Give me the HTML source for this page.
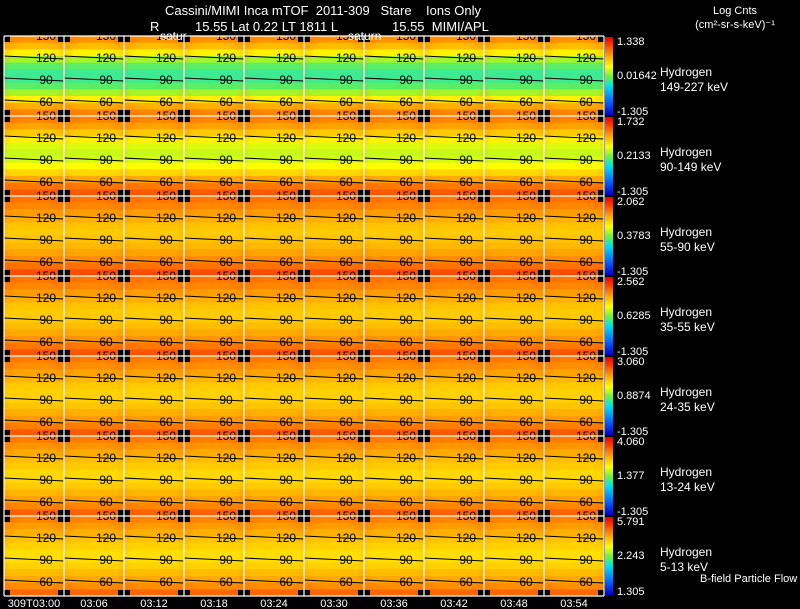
<!DOCTYPE html>
<html><head><meta charset="utf-8">
<style>
html,body{margin:0;padding:0;background:#000;width:800px;height:609px;overflow:hidden}
svg{display:block}
text{font-family:"Liberation Sans",sans-serif;white-space:pre}
</style></head>
<body>
<svg id="chart" width="800" height="609" viewBox="0 0 800 609" xmlns="http://www.w3.org/2000/svg" xml:space="preserve">
<g id="grid"></g>
<text x="165" y="15" fill="#fff" font-size="13">Cassini/MIMI Inca mTOF  2011-309   Stare    Ions Only</text>
<text x="150" y="31" fill="#fff" font-size="13">R</text>
<text x="195" y="31" fill="#fff" font-size="13">15.55 Lat 0.22 LT 1811 L</text>
<text x="392" y="31" fill="#fff" font-size="13">15.55  MIMI/APL</text>
<text x="735" y="14" fill="#fff" font-size="11" text-anchor="middle">Log Cnts</text>
<text x="735" y="28" fill="#fff" font-size="11" text-anchor="middle">(cm²-sr-s-keV)⁻¹</text>
<text x="160" y="40" fill="#fff" font-size="12">satur</text>
<text x="348" y="40" fill="#fff" font-size="12">saturn</text>
<text x="700" y="582" fill="#fff" font-size="11">B-field Particle Flow</text>
</svg>
<script>
const times=["309T03:00","03:06","03:12","03:18","03:24","03:30","03:36","03:42","03:48","03:54"];
const species=["Hydrogen","Hydrogen","Hydrogen","Hydrogen","Hydrogen","Hydrogen","Hydrogen"];
const energies=["149-227 keV","90-149 keV","55-90 keV","35-55 keV","24-35 keV","13-24 keV","5-13 keV"];
const cbMax=["1.338","1.732","2.062","2.562","3.060","4.060","5.791"];
const cbMid=["0.01642","0.2133","0.3783","0.6285","0.8874","1.377","2.243"];
const cbMin=["-1.305","-1.305","-1.305","-1.305","-1.305","-1.305","1.305"];
// vertical intensity profile per row (0=blue .. 1=red), top->bottom, 12 bins
const profiles=[
 [0.78,0.72,0.64,0.54,0.47,0.44,0.44,0.47,0.54,0.64,0.74,0.80],
 [0.80,0.76,0.70,0.64,0.59,0.57,0.58,0.62,0.68,0.75,0.82,0.86],
 [0.82,0.80,0.77,0.74,0.71,0.70,0.71,0.73,0.76,0.79,0.83,0.88],
 [0.82,0.80,0.77,0.74,0.71,0.70,0.70,0.72,0.75,0.78,0.82,0.87],
 [0.81,0.79,0.76,0.73,0.70,0.69,0.69,0.71,0.74,0.77,0.81,0.86],
 [0.81,0.78,0.75,0.72,0.70,0.68,0.68,0.70,0.73,0.76,0.80,0.85],
 [0.80,0.77,0.74,0.71,0.69,0.67,0.67,0.69,0.72,0.75,0.79,0.84]];
const contourLevels=["120","90","60"];
const contourY=[22,44,66];

const X0=4,CW=60,Y0=36,RH=80,NC=10,NR=7;
const xs=i=>X0+i*CW, ys=r=>Y0+r*RH;
function cmap(v){
 const stops=[[0,[0,0,200]],[0.2,[0,120,255]],[0.38,[0,230,230]],[0.5,[120,240,60]],[0.62,[255,255,0]],[0.78,[255,150,0]],[0.9,[255,60,0]],[1,[230,0,0]]];
 for(let i=1;i<stops.length;i++){if(v<=stops[i][0]){const a=stops[i-1],b=stops[i],t=(v-a[0])/(b[0]-a[0]);return `rgb(${a[1].map((c,k)=>Math.round(c+(b[1][k]-c)*t)).join(',')})`;}}
 return 'rgb(230,0,0)';
}
const NS="http://www.w3.org/2000/svg";
const g=document.getElementById('grid');
function el(t,a,p){const e=document.createElementNS(NS,t);for(const k in a)e.setAttribute(k,a[k]);(p||g).appendChild(e);return e;}
const defs=el('defs',{});
const rg=el('radialGradient',{id:'edge',cx:'0.5',cy:'0.5',r:'0.7'},defs);
el('stop',{offset:'0.6','stop-color':'#ff6000','stop-opacity':'0'},rg);
el('stop',{offset:'1','stop-color':'#ff5000','stop-opacity':'0.35'},rg);
for(let r=0;r<NR;r++){
 for(let c=0;c<NC;c++){
  const cg=el('g',{});
  
  
  const x=xs(c),y=ys(r),bh=RH/profiles[r].length;
  profiles[r].forEach((v,i)=>{
   const rc=el('rect',{x:x,y:(y+i*bh).toFixed(2),width:CW,height:(bh+0.5).toFixed(2),fill:cmap(v)},cg);
   
   
  });
  el('rect',{x:x,y:y,width:CW,height:RH,fill:'url(#edge)'},cg);
  [[x,y],[x+CW-6,y],[x,y+RH-6],[x+CW-6,y+RH-6]].forEach(p=>el('rect',{x:p[0],y:p[1],width:6,height:6,fill:'#000'},cg));
  el('text',{x:x+42,y:y+4,'font-size':'12','text-anchor':'middle',fill:'#000'},cg).textContent='150';
  contourLevels.forEach((lv,k)=>{
   const cy=y+contourY[k];
   const ln=el('polyline',{points:`${x},${cy-2} ${x+20},${cy-1} ${x+40},${cy} ${x+CW},${cy+1}`,fill:'none',stroke:'#000','stroke-width':'1.1'},cg);
   
   
   const t=el('text',{x:x+42,y:cy+4,'font-size':'12','text-anchor':'middle',fill:'#000'},cg);
   t.textContent=lv;
   
   
  });
 }
 const y=ys(r);
 const lg=el('linearGradient',{id:'cb'+r,x1:'0',y1:'1',x2:'0',y2:'0'},defs);
 [0,0.2,0.38,0.5,0.62,0.78,0.9,1].forEach(o=>el('stop',{offset:o,'stop-color':cmap(o)},lg));
 const cb=el('rect',{x:605,y:y+1,width:8,height:RH-2,fill:`url(#cb${r})`});
 
 
 [[cbMax[r],y+9,'colorbar-max'],[cbMid[r],y+43,'colorbar-mid'],[cbMin[r],y+79,'colorbar-min']].forEach(a=>{
  const t=el('text',{x:617,y:a[1],'font-size':'11',fill:'#fff'});
  t.textContent=a[0];
  
  
 });
 const s=el('text',{x:660,y:y+40,'font-size':'12',fill:'#fff'});
 s.textContent=species[r];
 
 
 const e=el('text',{x:660,y:y+55,'font-size':'12',fill:'#fff'});
 e.textContent=energies[r];
 
 
}
for(let c=0;c<=NC;c++){const l=el('line',{x1:xs(c),y1:Y0,x2:xs(c),y2:ys(NR),stroke:'#fff','stroke-width':'1.2'});}
for(let r=0;r<=NR;r++){const l=el('line',{x1:X0,y1:ys(r),x2:xs(NC),y2:ys(r),stroke:'#fff','stroke-width':'1.2'});}
times.forEach((t,i)=>{
 const tx=el('text',{x:xs(i)+30,y:607,'font-size':'11',fill:'#fff','text-anchor':'middle'});
 tx.textContent=t;
 
 
});
</script>
</body></html>
